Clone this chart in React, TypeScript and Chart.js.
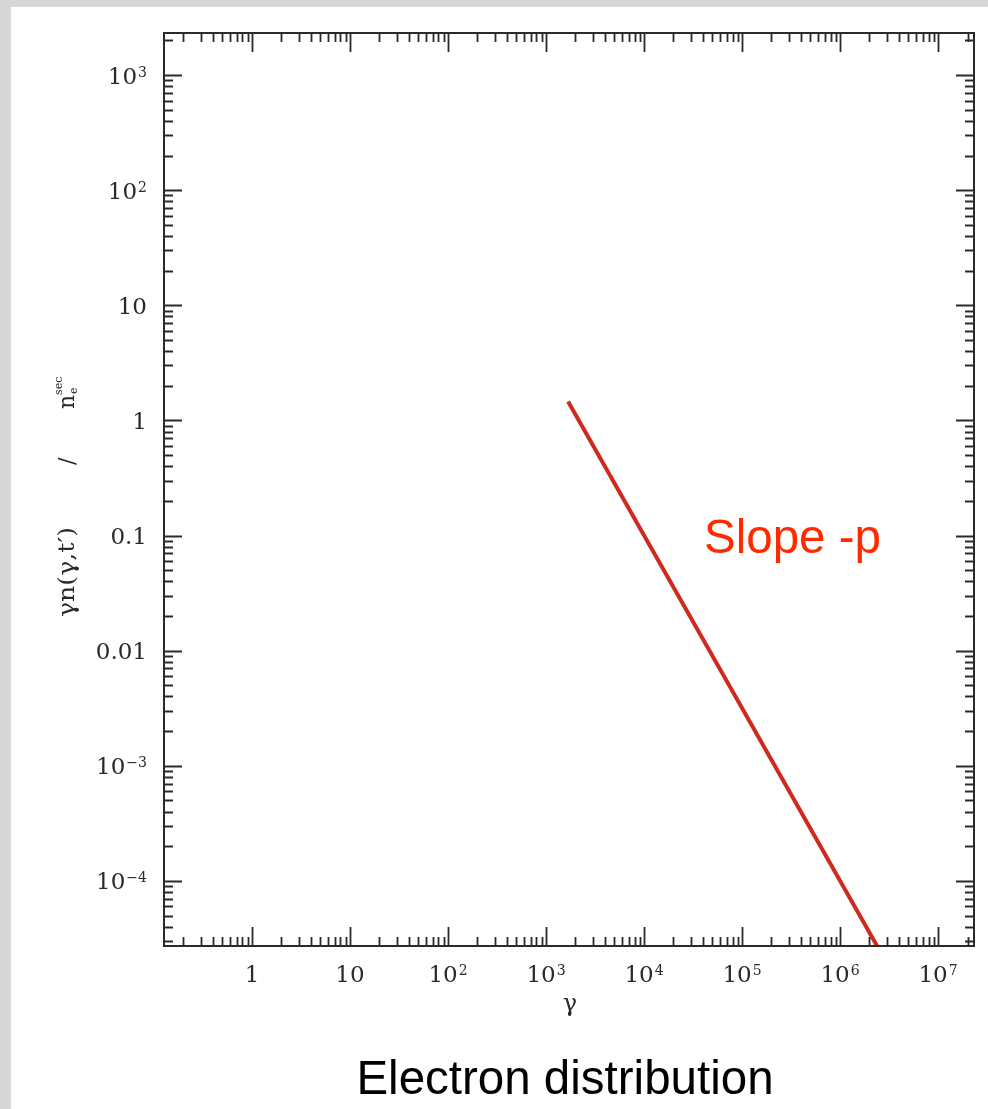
import React, { useEffect, useRef } from "react";
import { Chart, registerables } from "chart.js";

Chart.register(...registerables);

// Data
const gammaValues = [1680, 2.39e6];
const distValues = [1.46, 2.72e-5];

// Axis ranges
const xRange = [0.1265, 2.33e7];
const yRange = [2.72e-5, 2318];

// Tick labels
const xTickValues = [1, 10, 100, 1e3, 1e4, 1e5, 1e6, 1e7];
const xTickBases = ["1", "10", "10", "10", "10", "10", "10", "10"];
const xTickExps = ["", "", "2", "3", "4", "5", "6", "7"];
const yTickValues = [1e3, 1e2, 10, 1, 0.1, 0.01, 1e-3, 1e-4];
const yTickBases = ["10", "10", "10", "1", "0.1", "0.01", "10", "10"];
const yTickExps = ["3", "2", "", "", "", "", "\u22123", "\u22124"];

const xTitle = "\u03b3";
const yTitleMain = "\u03b3n(\u03b3,t\u2032)";
const yTitleSlash = "/";
const yTitleN = "n";
const yTitleSub = "e";
const yTitleSup = "sec";
const annotation = "Slope -p";
const caption = "Electron distribution";

const INK = "#2a2a2a";
const SERIF = "'DejaVu Serif', serif";

function drawPow(ctx: CanvasRenderingContext2D, base: string, exp: string, x: number, baseline: number, align: "center" | "right") {
  ctx.font = `23px ${SERIF}`;
  const wb = ctx.measureText(base).width;
  ctx.font = `14px ${SERIF}`;
  const we = exp ? ctx.measureText(exp).width + 1 : 0;
  const w = wb + we;
  const sx = align === "center" ? x - w / 2 : x - w;
  ctx.textAlign = "left";
  ctx.textBaseline = "alphabetic";
  ctx.font = `23px ${SERIF}`;
  ctx.fillText(base, sx, baseline);
  if (exp) {
    ctx.font = `14px ${SERIF}`;
    ctx.fillText(exp, sx + wb + 1, baseline - 7);
  }
}

const framePlugin = {
  id: "framePlugin",
  afterDatasetsDraw(chart: any) {
    const ctx: CanvasRenderingContext2D = chart.ctx;
    const { left, right, top, bottom } = chart.chartArea;
    const xs = chart.scales.x;
    const ys = chart.scales.y;
    ctx.save();
    ctx.strokeStyle = INK;
    ctx.fillStyle = INK;
    ctx.lineWidth = 2;
    ctx.strokeRect(left, top, right - left, bottom - top);

    ctx.lineWidth = 1.8;
    ctx.beginPath();
    // x ticks (bottom & top)
    for (let d = Math.floor(Math.log10(xs.min)); d <= Math.ceil(Math.log10(xs.max)); d++) {
      for (let k = 1; k <= 9; k++) {
        const v = k * Math.pow(10, d);
        if (v < xs.min || v > xs.max) continue;
        const px = Math.round(xs.getPixelForValue(v)) + 0.5;
        const len = k === 1 ? 19 : 9;
        ctx.moveTo(px, bottom);
        ctx.lineTo(px, bottom - len);
        ctx.moveTo(px, top);
        ctx.lineTo(px, top + len);
      }
    }
    // y ticks (left & right)
    for (let d = Math.floor(Math.log10(ys.min)); d <= Math.ceil(Math.log10(ys.max)); d++) {
      for (let k = 1; k <= 9; k++) {
        const v = k * Math.pow(10, d);
        if (v < ys.min || v > ys.max) continue;
        const py = Math.round(ys.getPixelForValue(v)) + 0.5;
        const len = k === 1 ? 18 : 9;
        ctx.moveTo(left, py);
        ctx.lineTo(left + len, py);
        ctx.moveTo(right, py);
        ctx.lineTo(right - len, py);
      }
    }
    ctx.stroke();

    // tick labels
    xTickValues.forEach((v, i) => {
      const px = xs.getPixelForValue(v);
      drawPow(ctx, xTickBases[i], xTickExps[i], px, 982, "center");
    });
    yTickValues.forEach((v, i) => {
      const py = ys.getPixelForValue(v);
      drawPow(ctx, yTickBases[i], yTickExps[i], 147, py + 8.5, "right");
    });

    // x title
    ctx.font = `24px ${SERIF}`;
    ctx.textAlign = "center";
    ctx.textBaseline = "alphabetic";
    ctx.fillText(xTitle, (left + right) / 2 + 1, 1011);

    // y title (rotated)
    ctx.save();
    ctx.translate(74, 617);
    ctx.rotate(-Math.PI / 2);
    ctx.textAlign = "left";
    ctx.font = `22px ${SERIF}`;
    const wMain = ctx.measureText(yTitleMain).width;
    const sc = 90 / wMain;
    ctx.save();
    ctx.scale(sc, 1);
    ctx.fillText(yTitleMain, 0, 0);
    ctx.restore();
    ctx.fillText(yTitleSlash, 152, 0);
    ctx.fillText(yTitleN, 208, 0);
    ctx.font = `11px ${SERIF}`;
    ctx.fillText(yTitleSup, 222, -12);
    ctx.fillText(yTitleSub, 223, 3);
    ctx.restore();

    ctx.restore();
  },
};

export default function App() {
  const canvasRef = useRef<HTMLCanvasElement | null>(null);

  useEffect(() => {
    document.body.style.margin = "0";
    const canvas = canvasRef.current;
    if (!canvas) return;
    const chart = new Chart(canvas, {
      type: "line",
      data: {
        datasets: [
          {
            label: "electron distribution",
            data: gammaValues.map((g, i) => ({ x: g, y: distValues[i] })),
            borderColor: "#cf2a1f",
            borderWidth: 4,
            pointRadius: 0,
            fill: false,
            tension: 0,
          },
        ],
      },
      options: {
        animation: false,
        responsive: false,
        maintainAspectRatio: false,
        devicePixelRatio: 1,
        layout: { padding: { left: 164, top: 33, right: 14, bottom: 163 } },
        plugins: { legend: { display: false }, tooltip: { enabled: false } },
        scales: {
          x: { type: "logarithmic", min: xRange[0], max: xRange[1], display: false },
          y: { type: "logarithmic", min: yRange[0], max: yRange[1], display: false },
        },
      },
      plugins: [framePlugin],
    });
    return () => chart.destroy();
  }, []);

  return (
    <div style={{ position: "absolute", left: 0, top: 0, width: 988, height: 1109, background: "#d6d6d6", overflow: "hidden" }}>
      <div style={{ position: "absolute", left: 11, top: 7, width: 977, height: 1102, background: "#ffffff" }} />
      <canvas ref={canvasRef} width={988} height={1109} style={{ position: "absolute", left: 0, top: 0, width: 988, height: 1109 }} />
      <div
        style={{
          position: "absolute",
          left: 704,
          top: 514,
          fontFamily: "'Liberation Sans', Arial, sans-serif",
          fontSize: 47.5,
          lineHeight: "46px",
          color: "#ff2a00",
          whiteSpace: "nowrap",
        }}
      >
        {annotation}
      </div>
      <div
        style={{
          position: "absolute",
          left: 265,
          top: 1055,
          width: 600,
          textAlign: "center",
          fontFamily: "'Liberation Sans', Arial, sans-serif",
          fontSize: 47.5,
          lineHeight: "46px",
          color: "#000000",
          whiteSpace: "nowrap",
        }}
      >
        {caption}
      </div>
    </div>
  );
}
